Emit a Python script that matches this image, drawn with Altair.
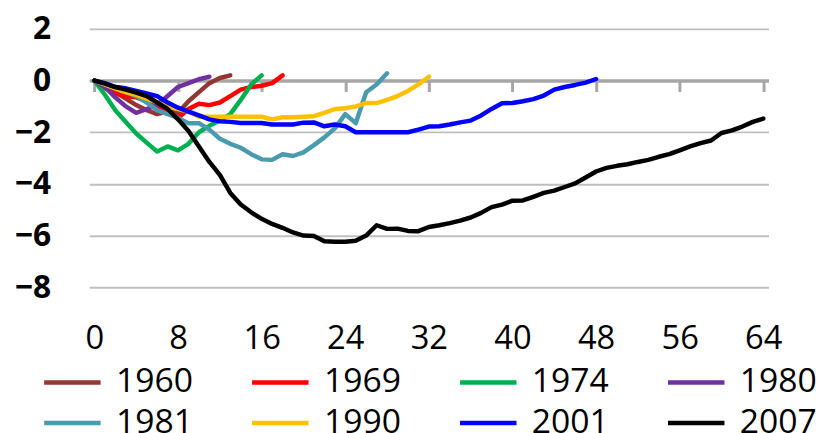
import altair as alt
import pandas as pd

years = ["1960", "1969", "1974", "1980", "1981", "1990", "2001", "2007"]
colors = ["#943634", "#FF0000", "#00B050", "#7030A0", "#4A9BB0", "#FFC000", "#0000FF", "#000000"]

s1960 = [0, -0.2, -0.45, -0.7, -0.95, -1.15, -1.3, -1.2, -1.25, -0.8, -0.45, -0.1, 0.1, 0.2]
s1969 = [0, -0.3, -0.5, -0.6, -0.65, -0.8, -1.0, -1.2, -1.45, -1.1, -0.9, -0.95, -0.85, -0.6,
         -0.35, -0.25, -0.2, -0.1, 0.2]
s1974 = [0, -0.55, -1.15, -1.6, -2.05, -2.4, -2.75, -2.55, -2.7, -2.45, -2.0, -1.75, -1.55, -1.3,
         -0.75, -0.15, 0.2]
s1980 = [0, -0.25, -0.65, -1.0, -1.25, -1.1, -0.95, -0.6, -0.25, -0.1, 0.05, 0.15]
s1981 = [0, -0.15, -0.3, -0.45, -0.6, -0.85, -1.15, -1.3, -1.45, -1.65, -1.65, -1.9, -2.25, -2.45,
         -2.6, -2.85, -3.05, -3.07, -2.85, -2.92, -2.78, -2.5, -2.2, -1.85, -1.3, -1.65, -0.45,
         -0.15, 0.28]
s1990 = [0, -0.15, -0.3, -0.45, -0.55, -0.7, -0.85, -1.0, -1.1, -1.2, -1.4, -1.4, -1.4, -1.4,
         -1.4, -1.4, -1.4, -1.5, -1.42, -1.42, -1.4, -1.38, -1.25, -1.1, -1.07, -1.0, -0.87,
         -0.87, -0.75, -0.6, -0.4, -0.15, 0.15]
s2001 = [0, -0.1, -0.25, -0.3, -0.4, -0.5, -0.6, -0.85, -1.05, -1.2, -1.35, -1.5, -1.58, -1.6,
         -1.64, -1.64, -1.64, -1.7, -1.7, -1.7, -1.63, -1.62, -1.77, -1.7, -1.77, -2.0, -2.0,
         -2.0, -2.0, -2.0, -2.0, -1.9, -1.78, -1.77, -1.7, -1.62, -1.55, -1.35, -1.1, -0.88,
         -0.87, -0.8, -0.72, -0.58, -0.35, -0.25, -0.17, -0.08, 0.06]
s2007 = [0, -0.12, -0.25, -0.35, -0.47, -0.6, -0.85, -1.1, -1.5, -1.95, -2.55, -3.15, -3.65,
         -4.35, -4.8, -5.1, -5.35, -5.55, -5.7, -5.88, -6.0, -6.02, -6.22, -6.24, -6.24, -6.2,
         -6.0, -5.6, -5.74, -5.73, -5.82, -5.83, -5.67, -5.6, -5.52, -5.42, -5.3, -5.12, -4.9,
         -4.8, -4.65, -4.64, -4.5, -4.35, -4.26, -4.12, -3.98, -3.75, -3.52, -3.38, -3.3, -3.24,
         -3.15, -3.07, -2.95, -2.85, -2.7, -2.55, -2.42, -2.32, -2.03, -1.93, -1.78, -1.6, -1.47]

series = [s1960, s1969, s1974, s1980, s1981, s1990, s2001, s2007]
x_ticks = [0, 8, 16, 24, 32, 40, 48, 56, 64]
y_ticks = [-8, -6, -4, -2, 0, 2]
title_text = "(variación, porcentaje)"

rows = []
for yr, vals in zip(years, series):
    for q, v in enumerate(vals):
        rows.append({"year": yr, "q": q, "v": v})
df = pd.DataFrame(rows)

chart = (
    alt.Chart(df)
    .mark_line(strokeWidth=4.5, strokeJoin="round", strokeCap="round")
    .encode(
        x=alt.X(
            "q:Q",
            scale=alt.Scale(domain=[-0.5, 64.5], nice=False, zero=False),
            axis=alt.Axis(
                values=x_ticks, title=None, grid=False,
                domainColor="#A6A6A6", domainWidth=3.5,
                tickColor="#A6A6A6", tickWidth=3, tickSize=11,
                offset=-234.8, labelPadding=234,
                labelFont="Open Sans", labelFontSize=33, labelColor="#000000",
                labelFlush=False,
            ),
        ),
        y=alt.Y(
            "v:Q",
            scale=alt.Scale(domain=[-9, 2], nice=False, zero=False),
            axis=alt.Axis(
                values=y_ticks, title=None, grid=True, domain=False, ticks=False,
                gridColor="#BFBFBF", gridWidth=2,
                labelFont="Open Sans", labelFontSize=32, labelFontWeight="bold",
                labelColor="#000000", labelPadding=39,
            ),
        ),
        color=alt.Color(
            "year:N",
            scale=alt.Scale(domain=years, range=colors),
            legend=alt.Legend(
                title=None, orient="none", legendX=-34, legendY=340,
                direction="horizontal", columns=4,
                symbolType="M-2,0H2", symbolSize=812, symbolStrokeWidth=4.5,
                labelFont="Open Sans", labelFontSize=34, labelColor="#000000",
                labelOffset=27, columnPadding=50, rowPadding=7,
            ),
        ),
        order="q:Q",
    )
    .properties(
        width=686,
        height=287,
        autosize=alt.AutoSizeParams(type="none"),
        padding={"left": 82, "top": 19, "right": 54, "bottom": 119},
        title=alt.TitleParams(
            title_text, font="Open Sans", fontSize=30, fontWeight="normal",
            color="#000000", offset=17, baseline="bottom", dx=-21,
        ),
    )
    .configure_view(stroke=None)
)

chart.save("out.html", embed_options={"renderer": "svg", "actions": False})
